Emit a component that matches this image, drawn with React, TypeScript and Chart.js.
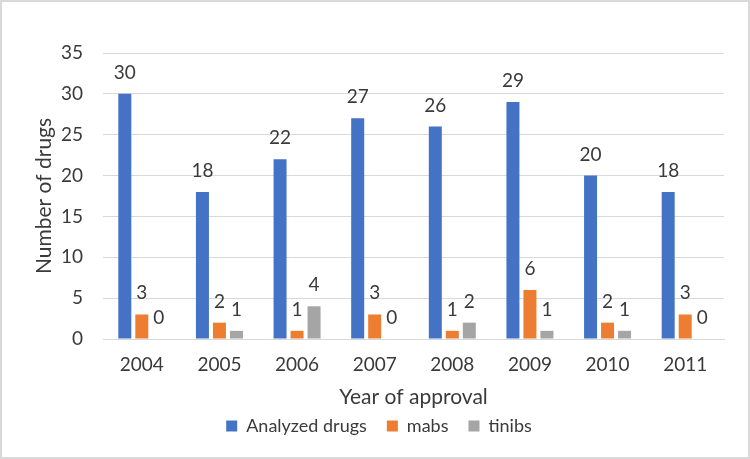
import React, { useEffect, useRef } from "react";
import { Chart, registerables, Plugin } from "chart.js";

Chart.register(...registerables);

const years = ["2004", "2005", "2006", "2007", "2008", "2009", "2010", "2011"];
const analyzedDrugs = [30, 18, 22, 27, 26, 29, 20, 18];
const mabs = [3, 2, 1, 3, 1, 6, 2, 3];
const tinibs = [0, 1, 4, 0, 2, 1, 1, 0];

const FONT = "Lato, 'Noto Sans', sans-serif";
const TEXT = "#3a3a3a";

// Writes each bar's value just above it
const valueLabels: Plugin<"bar"> = {
  id: "valueLabels",
  afterDatasetsDraw(chart) {
    const ctx = chart.ctx;
    ctx.save();
    ctx.font = `19px ${FONT}`;
    ctx.fillStyle = TEXT;
    ctx.textAlign = "center";
    ctx.textBaseline = "alphabetic";
    chart.data.datasets.forEach((ds, di) => {
      const meta = chart.getDatasetMeta(di);
      meta.data.forEach((bar: any, i) => {
        const v = ds.data[i] as number;
        ctx.fillText(String(v), bar.x, bar.y - 15);
      });
    });
    ctx.restore();
  },
};

export default function App() {
  const canvasRef = useRef<HTMLCanvasElement | null>(null);

  useEffect(() => {
    document.body.style.margin = "0";
    const canvas = canvasRef.current;
    if (!canvas) return;
    const chart = new Chart(canvas, {
      type: "bar",
      data: {
        labels: years,
        datasets: [
          { label: "Analyzed drugs", data: analyzedDrugs, backgroundColor: "#4472C4" },
          { label: "mabs", data: mabs, backgroundColor: "#ED7D31" },
          { label: "tinibs", data: tinibs, backgroundColor: "#A5A5A5" },
        ],
      },
      options: {
        responsive: false,
        animation: false,
        devicePixelRatio: 1,
        datasets: {
          bar: { categoryPercentage: 0.657, barPercentage: 0.765 },
        },
        layout: { padding: { left: 8, top: 53, right: 0, bottom: 14 } },
        plugins: {
          legend: {
            position: "bottom",
            labels: {
              font: { family: FONT, size: 18 },
              color: TEXT,
              boxWidth: 11,
              boxHeight: 11,
              padding: 20,
            },
          },
          tooltip: { enabled: false },
        },
        scales: {
          x: {
            grid: { display: false, drawTicks: false },
            border: { display: true, color: "#d9d9d9" },
            ticks: { font: { family: FONT, size: 19 }, color: TEXT, padding: 14 },
            title: {
              display: true,
              text: "Year of approval",
              font: { family: FONT, size: 21 },
              color: TEXT,
              padding: { top: 0, bottom: -13 },
            },
            afterFit(scale: any) {
              scale.height = 58;
            },
          },
          y: {
            min: 0,
            max: 35,
            ticks: { stepSize: 5, font: { family: FONT, size: 19 }, color: TEXT, padding: 20 },
            grid: { color: "#d9d9d9", drawTicks: false },
            border: { display: false },
            title: {
              display: true,
              text: "Number of drugs",
              font: { family: FONT, size: 21 },
              color: TEXT,
              padding: { top: 24, bottom: 0 },
            },
            afterFit(scale: any) {
              scale.width = 95;
            },
          },
          // empty right-hand margin beside the plot
          yRight: {
            position: "right",
            min: 0,
            max: 35,
            ticks: { display: false },
            grid: { display: false, drawTicks: false },
            border: { display: false },
            afterFit(scale: any) {
              scale.width = 26;
            },
          },
        },
      },
      plugins: [valueLabels],
    });
    return () => chart.destroy();
  }, []);

  return (
    <div style={{ position: "relative", width: 750, height: 459, background: "#fff" }}>
      <canvas ref={canvasRef} width={750} height={459} style={{ display: "block" }} />
      <div
        style={{
          position: "absolute",
          inset: 0,
          border: "2px solid #d9d9d9",
          boxSizing: "border-box",
          pointerEvents: "none",
        }}
      />
    </div>
  );
}
